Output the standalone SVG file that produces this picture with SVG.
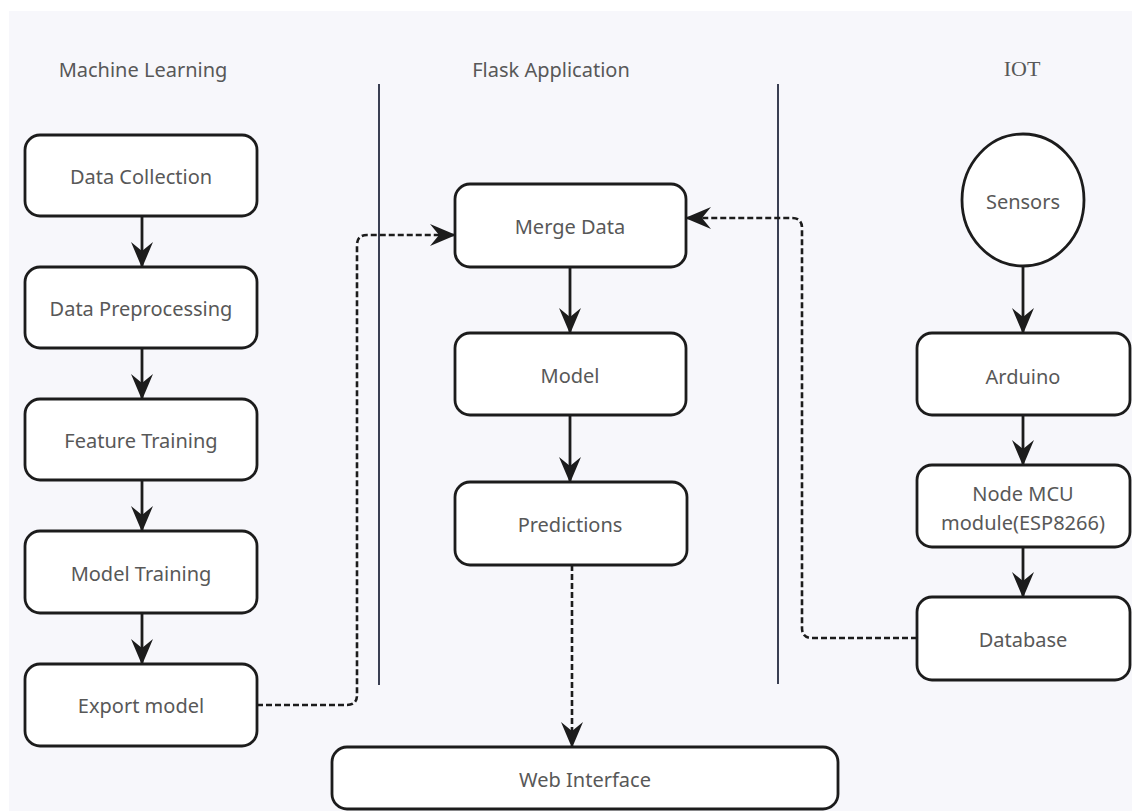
<svg xmlns="http://www.w3.org/2000/svg" width="1132" height="811" viewBox="0 0 1132 811">
  <style>
    .box { fill: #ffffff; stroke: #1c1c1c; stroke-width: 2.8; }
    .lbl { font-family: "Noto Sans", "Open Sans", sans-serif; font-size: 20px; fill: #585858; text-anchor: middle; dominant-baseline: central; }
    .hdr { font-family: "Noto Sans", "Open Sans", sans-serif; font-size: 20px; fill: #585858; text-anchor: middle; }
    .lane { stroke: #3a3f52; stroke-width: 2; }
    .solid { fill: none; stroke: #1c1c1c; stroke-width: 2.8; marker-end: url(#head); }
    .dash { fill: none; stroke: #1c1c1c; stroke-width: 2.6; stroke-dasharray: 6 3; marker-end: url(#head); }
  </style>
  <defs>
    <marker id="head" viewBox="0 0 26 24" refX="25" refY="12" markerWidth="26" markerHeight="24" markerUnits="userSpaceOnUse" orient="auto">
      <path d="M0,1 L26,12 L0,23 L9,12 Z" fill="#1c1c1c"/>
    </marker>
  </defs>

  <!-- canvas -->
  <rect width="1132" height="811" fill="#ffffff"/>
  <rect x="9" y="11" width="1123" height="800" fill="#f7f7fb"/>

  <!-- section titles -->
  <g id="headers">
    <text class="hdr" x="143" y="77">Machine Learning</text>
    <text class="hdr" x="551" y="77">Flask Application</text>
    <text class="hdr" x="1022" y="76" style="font-family: 'Liberation Serif', serif; font-size: 22px;">IOT</text>
  </g>

  <!-- lane separators -->
  <g id="lanes">
    <line class="lane" x1="379" y1="84" x2="379" y2="685"/>
    <line class="lane" x1="778" y1="84" x2="778" y2="684"/>
  </g>

  <!-- machine learning pipeline -->
  <g id="data-collection">
    <rect class="box" x="25" y="135" width="232" height="81" rx="15"/>
    <text class="lbl" x="141" y="176">Data Collection</text>
  </g>
  <g id="data-preprocessing">
    <rect class="box" x="25" y="267" width="232" height="81" rx="15"/>
    <text class="lbl" x="141" y="308">Data Preprocessing</text>
  </g>
  <g id="feature-training">
    <rect class="box" x="25" y="399" width="232" height="81" rx="15"/>
    <text class="lbl" x="141" y="440">Feature Training</text>
  </g>
  <g id="model-training">
    <rect class="box" x="25" y="531" width="232" height="82" rx="15"/>
    <text class="lbl" x="141" y="573">Model Training</text>
  </g>
  <g id="export-model">
    <rect class="box" x="25" y="664" width="232" height="82" rx="15"/>
    <text class="lbl" x="141" y="705">Export model</text>
  </g>

  <!-- flask application -->
  <g id="merge-data">
    <rect class="box" x="455" y="184" width="231" height="83" rx="15"/>
    <text class="lbl" x="570" y="226">Merge Data</text>
  </g>
  <g id="model">
    <rect class="box" x="455" y="333" width="231" height="82" rx="15"/>
    <text class="lbl" x="570" y="375">Model</text>
  </g>
  <g id="predictions">
    <rect class="box" x="455" y="482" width="232" height="83" rx="15"/>
    <text class="lbl" x="570" y="524">Predictions</text>
  </g>
  <g id="web-interface">
    <rect class="box" x="332" y="747" width="506" height="62" rx="15"/>
    <text class="lbl" x="585" y="779">Web Interface</text>
  </g>

  <!-- iot -->
  <g id="sensors">
    <ellipse class="box" cx="1023" cy="200" rx="61" ry="66"/>
    <text class="lbl" x="1023" y="201">Sensors</text>
  </g>
  <g id="arduino">
    <rect class="box" x="917" y="333" width="213" height="82" rx="15"/>
    <text class="lbl" x="1023" y="376">Arduino</text>
  </g>
  <g id="node-mcu">
    <rect class="box" x="917" y="465" width="213" height="82" rx="15"/>
    <text class="lbl" x="1023" y="493">Node MCU</text>
    <text class="lbl" x="1023" y="522">module(ESP8266)</text>
  </g>
  <g id="database">
    <rect class="box" x="917" y="597" width="213" height="83" rx="15"/>
    <text class="lbl" x="1023" y="639">Database</text>
  </g>

  <!-- connectors -->
  <g id="connectors">
    <path class="solid" d="M142,216 V267"/>
    <path class="solid" d="M142,348 V399"/>
    <path class="solid" d="M142,480 V531"/>
    <path class="solid" d="M142,613 V664"/>

    <path class="solid" d="M570,267 V333"/>
    <path class="solid" d="M570,415 V482"/>
    <path class="dash" d="M572,565 V747"/>

    <path class="solid" d="M1023,266 V333"/>
    <path class="solid" d="M1023,415 V465"/>
    <path class="solid" d="M1023,547 V597"/>

    <path class="dash" d="M257,705 H347 Q357,705 357,695 V245 Q357,235 367,235 H455"/>
    <path class="dash" d="M917,638 H812 Q802,638 802,628 V228 Q802,218 792,218 H686"/>
  </g>
</svg>
